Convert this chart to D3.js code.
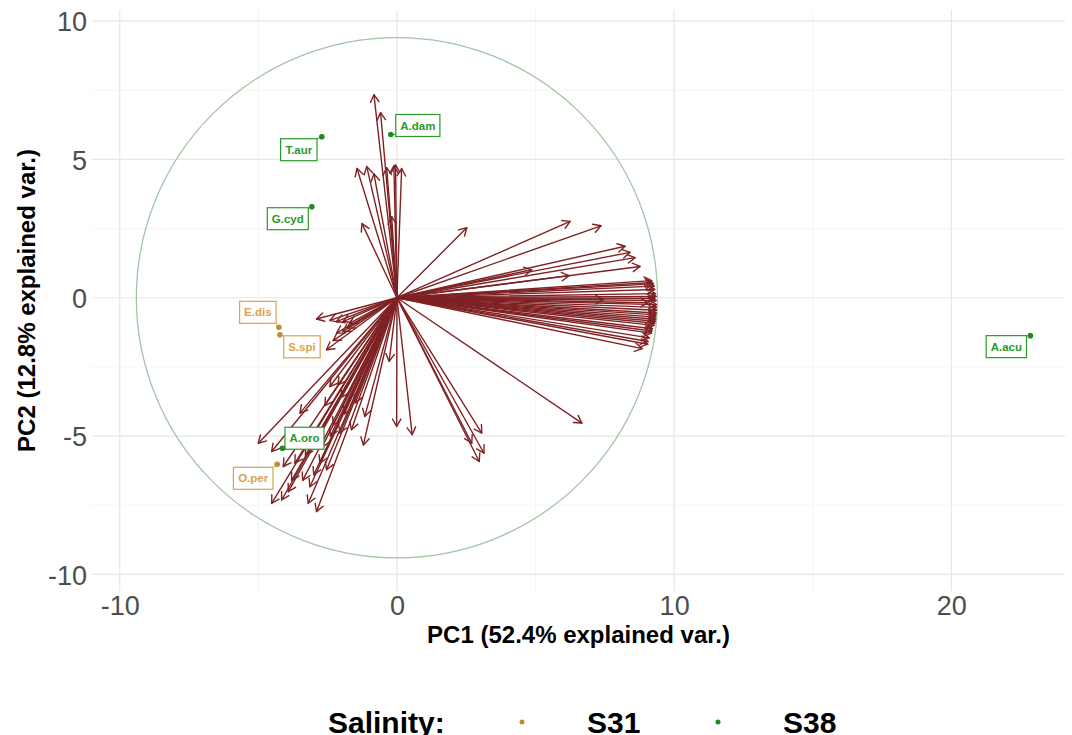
<!DOCTYPE html>
<html>
<head>
<meta charset="utf-8">
<script src="https://cdn.jsdelivr.net/npm/d3@7"></script>
<style>
  body { margin: 0; background: #fff; }
  svg { font-family: "Liberation Sans", Arial, sans-serif; }
</style>
</head>
<body>
<svg id="chart" width="1072" height="735"></svg>
<script>
// sample scores (PC1, PC2)
const species = ["T.aur", "A.dam", "G.cyd", "E.dis", "S.spi", "A.oro", "O.per", "A.acu"];
const pc1 = [-2.71, -0.22, -3.07, -4.26, -4.22, -4.13, -4.32, 22.85];
const pc2 = [5.82, 5.90, 3.29, -1.07, -1.34, -5.44, -6.02, -1.37];
const salinity = ["S38", "S38", "S38", "S31", "S31", "S38", "S31", "S38"];

// variable loadings (arrow tips)
const loadings = [
    // right bundle
    [9.19, 0.62], [9.22, 0.55], [9.25, 0.50], [9.28, 0.42], [9.30, 0.30], [9.33, 0.15],
    [9.35, 0.05], [9.30, -0.02], [9.06, -0.18], [9.35, -0.10], [9.36, -0.25], [9.36, -0.35],
    [9.36, -0.45], [9.35, -0.55], [9.34, -0.62], [9.33, -0.70], [9.33, -0.78], [9.32, -0.85],
    [9.30, -0.92], [9.28, -1.00], [9.22, -1.12], [9.20, -1.20], [9.18, -1.28], [9.10, -1.45],
    [9.06, -1.58], [9.05, -1.68], [8.85, -1.84], [7.44, -0.07], [6.21, 0.80], [4.86, 1.01],
    // upper right
    [2.52, 2.53], [6.25, 2.76], [7.36, 2.60], [8.23, 1.86], [8.41, 1.64], [8.59, 1.45], [8.77, 1.13],
    // upward
    [-0.83, 7.34], [-0.59, 6.69], [-1.44, 4.67], [-1.09, 4.74], [-0.83, 4.48], [-0.37, 4.70],
    [-0.11, 4.77], [0.17, 4.67], [-1.26, 2.68], [-0.19, 2.93], [-0.05, 4.80],
    // lower right
    [-0.28, -2.30], [-0.01, -4.65], [0.55, -4.95], [3.06, -4.89], [2.70, -5.26], [3.14, -5.62],
    [2.97, -5.92], [6.67, -4.53],
    // left, short
    [-2.90, -0.77], [-2.42, -0.82], [-2.18, -0.86], [-1.94, -0.86], [-1.70, -0.92], [-2.18, -1.28],
    [-1.95, -1.22], [-2.54, -1.88], [-2.30, -1.55], [-1.80, -1.10],
    // lower left fan
    [-5.00, -5.26], [-4.52, -5.56], [-4.10, -6.10], [-4.52, -7.43], [-4.16, -7.31], [-3.92, -7.01],
    [-3.68, -5.98], [-3.50, -4.17], [-3.20, -7.43], [-2.90, -7.73], [-3.14, -6.83], [-2.78, -5.98],
    [-2.54, -6.22], [-2.42, -3.21], [-2.12, -3.15], [-2.06, -4.89], [-1.64, -4.77], [-1.21, -5.32],
    [-1.16, -4.29], [-3.40, -6.60], [-3.00, -6.40], [-2.70, -5.40], [-3.30, -5.70], [-2.30, -4.60],
    [-1.90, -4.20], [-2.60, -3.90], [-3.80, -6.60], [-2.40, -5.00], [-1.50, -3.80], [-2.00, -3.60]
];

const circleRadius = 9.4;
const xTicks = [-10, 0, 10, 20];
const xMinor = [-5, 5, 15];
const yTicks = [-10, -5, 0, 5, 10];
const yMinor = [-7.5, -2.5, 2.5, 7.5];
const groups = ["S31", "S38"];

const dotColor = { S31: "#b8912f", S38: "#1f8a1f" };
const labelColor = { S31: "#d9a24f", S38: "#2a9a2a" };

// label box offsets from their point (px), like ggrepel placed them
const labelNudge = [[-23, 13], [27, -9], [-24, 12], [-21, -15], [22, 12], [22, -10], [-24, 14], [-24, 11]];

const svg = d3.select("#chart");
const x = d3.scaleLinear().domain([-11.0, 24.1]).range([92, 1065]);
const y = d3.scaleLinear().domain([-10.6, 10.4]).range([591, 10]);

// grid
let grid = svg.append("g");
grid.selectAll("line.minx").data(xMinor).enter().append("line")
    .attr("x1", d => x(d)).attr("x2", d => x(d)).attr("y1", y.range()[0]).attr("y2", y.range()[1])
    .attr("stroke", "#f2f2f2").attr("stroke-width", 0.8);
grid.selectAll("line.miny").data(yMinor).enter().append("line")
    .attr("y1", d => y(d)).attr("y2", d => y(d)).attr("x1", x.range()[0]).attr("x2", x.range()[1])
    .attr("stroke", "#f2f2f2").attr("stroke-width", 0.8);
grid.selectAll("line.majx").data(xTicks).enter().append("line")
    .attr("x1", d => x(d)).attr("x2", d => x(d)).attr("y1", y.range()[0]).attr("y2", y.range()[1])
    .attr("stroke", "#e6e6e6").attr("stroke-width", 1.2);
grid.selectAll("line.majy").data(yTicks).enter().append("line")
    .attr("y1", d => y(d)).attr("y2", d => y(d)).attr("x1", x.range()[0]).attr("x2", x.range()[1])
    .attr("stroke", "#e6e6e6").attr("stroke-width", 1.2);

// axes text (plain hyphen for negatives, like R)
const fmt = d => String(d);
let xAxis = svg.append("g").attr("transform", `translate(0,${y.range()[0]})`)
    .call(d3.axisBottom(x).tickValues(xTicks).tickSize(0).tickPadding(2).tickFormat(fmt));
let yAxis = svg.append("g").attr("transform", `translate(${x.range()[0]},0)`)
    .call(d3.axisLeft(y).tickValues(yTicks).tickSize(0).tickPadding(5).tickFormat(fmt));
[xAxis, yAxis].forEach(a => {
    a.select(".domain").remove();
    a.selectAll("text").attr("font-size", 27).attr("fill", "#4d4d4d")
        .attr("font-family", "Liberation Sans, Arial, sans-serif");
});
xAxis.selectAll("text").attr("dy", "0.8em");
yAxis.selectAll("text").attr("dy", "0.36em");

svg.append("text").attr("x", (x.range()[0] + x.range()[1]) / 2).attr("y", 643)
    .attr("text-anchor", "middle").attr("font-size", 24).attr("font-weight", "bold")
    .text("PC1 (52.4% explained var.)");
svg.append("text").attr("transform", `translate(35,${(y.range()[0] + y.range()[1]) / 2}) rotate(-90)`)
    .attr("text-anchor", "middle").attr("font-size", 24).attr("font-weight", "bold")
    .text("PC2 (12.8% explained var.)");

// correlation circle
svg.append("ellipse")
    .attr("cx", x(0)).attr("cy", y(0))
    .attr("rx", x(circleRadius) - x(0)).attr("ry", y(0) - y(circleRadius))
    .attr("fill", "none").attr("stroke", "#a3c6a3").attr("stroke-width", 1.3);

// arrows
const arrowColor = "#7f2224";
let arrows = svg.append("g").attr("stroke", arrowColor).attr("stroke-width", 1.4)
    .attr("fill", "none").attr("stroke-linecap", "round").attr("stroke-linejoin", "round");
arrows.selectAll("line").data(loadings).enter().append("line")
    .attr("x1", x(0)).attr("y1", y(0))
    .attr("x2", d => x(d[0])).attr("y2", d => y(d[1]));
arrows.selectAll("path").data(loadings).enter().append("path")
    .attr("d", d => {
        let tx = x(d[0]), ty = y(d[1]);
        let ang = Math.atan2(ty - y(0), tx - x(0));
        let len = 8.5, spread = Math.PI / 6;
        let p1 = [tx - len * Math.cos(ang - spread), ty - len * Math.sin(ang - spread)];
        let p2 = [tx - len * Math.cos(ang + spread), ty - len * Math.sin(ang + spread)];
        return `M${p1[0]},${p1[1]}L${tx},${ty}L${p2[0]},${p2[1]}`;
    });

// sample points and labels
let samples = species.map((s, i) => ({ name: s, px: pc1[i], py: pc2[i], grp: salinity[i], nudge: labelNudge[i] }));

let labels = svg.append("g");
samples.forEach(d => {
    let cx = x(d.px), cy = y(d.py);
    let lx = cx + d.nudge[0], ly = cy + d.nudge[1];
    let g = labels.append("g");
    let t = g.append("text").attr("x", lx).attr("y", ly).attr("dy", "0.36em")
        .attr("text-anchor", "middle").attr("font-size", 11.5).attr("font-weight", "bold")
        .attr("fill", labelColor[d.grp]).text(d.name);
    let bb = t.node().getBBox();
    let w = bb.width + 9, h = 22;
    // connecting segment to the nearest box point
    let nx = Math.max(lx - w / 2, Math.min(cx, lx + w / 2));
    let ny = Math.max(ly - h / 2, Math.min(cy, ly + h / 2));
    if (Math.hypot(nx - cx, ny - cy) > 4) {
        g.insert("line", "text").attr("x1", cx).attr("y1", cy).attr("x2", nx).attr("y2", ny)
            .attr("stroke", labelColor[d.grp]).attr("stroke-width", 1);
    }
    g.insert("rect", "text").attr("x", lx - w / 2).attr("y", ly - h / 2)
        .attr("width", w).attr("height", h)
        .attr("fill", "#fff").attr("stroke", labelColor[d.grp]).attr("stroke-width", 1.2);
});

svg.append("g").selectAll("circle").data(samples).enter().append("circle")
    .attr("cx", d => x(d.px)).attr("cy", d => y(d.py)).attr("r", 2.8)
    .attr("fill", d => dotColor[d.grp]);

// legend
let legend = svg.append("g");
legend.append("text").attr("x", 328).attr("y", 733).attr("font-size", 30).attr("font-weight", "bold")
    .text("Salinity:");
const legendX = [522, 718];
groups.forEach((gname, i) => {
    legend.append("circle").attr("cx", legendX[i]).attr("cy", 722).attr("r", 2.5).attr("fill", dotColor[gname]);
    legend.append("text").attr("x", legendX[i] + 65).attr("y", 733).attr("font-size", 30)
        .attr("font-weight", "bold").text(gname);
});
</script>
</body>
</html>
